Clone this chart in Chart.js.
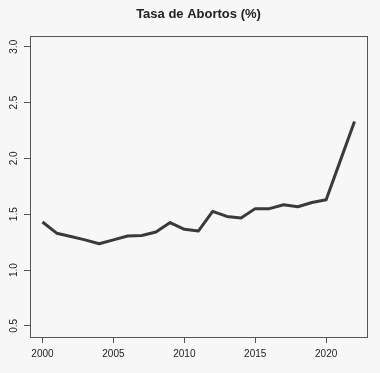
<!DOCTYPE html>
<html>
<head>
<meta charset="utf-8">
<script src="https://cdn.jsdelivr.net/npm/chart.js@4"></script>
<style>
  html, body { margin: 0; padding: 0; background: #f7f7f7; }
  canvas { display: block; }
</style>
</head>
<body>
<canvas id="chart" width="380" height="373"></canvas>
<script>
const years = [2000, 2001, 2002, 2003, 2004, 2005, 2006, 2007, 2008, 2009, 2010,
               2011, 2012, 2013, 2014, 2015, 2016, 2017, 2018, 2019, 2020, 2021, 2022];
const abortionRate = [1.43, 1.33, 1.30, 1.27, 1.235, 1.27, 1.305, 1.31, 1.34, 1.425, 1.365,
                      1.35, 1.525, 1.48, 1.465, 1.55, 1.55, 1.585, 1.567, 1.605, 1.63, 1.98, 2.33];
const xTicks = [2000, 2005, 2010, 2015, 2020];
const yTicks = [0.5, 1.0, 1.5, 2.0, 2.5, 3.0];
const chartTitle = 'Tasa de Abortos (%)';

const axisColor = '#555555';
const textColor = '#222222';

// R style box round the plot region
const boxPlugin = {
    id: 'box',
    afterDraw(chart) {
        const a = chart.chartArea;
        const ctx = chart.ctx;
        ctx.save();
        ctx.strokeStyle = axisColor;
        ctx.lineWidth = 1;
        ctx.strokeRect(Math.round(a.left) + 0.5, Math.round(a.top) + 0.5,
                       Math.round(a.right - a.left), Math.round(a.bottom - a.top));
        ctx.restore();
    }
};

const points = years.map((y, i) => ({ x: y, y: abortionRate[i] }));

new Chart('chart', {
    type: 'line',
    data: {
        datasets: [{
            data: points,
            borderColor: '#3a3a3a',
            borderWidth: 3,
            pointRadius: 0,
            tension: 0,
            borderJoinStyle: 'round',
            borderCapStyle: 'butt'
        }]
    },
    options: {
        responsive: false,
        animation: false,
        devicePixelRatio: 1,
        layout: { padding: { left: 0, right: 13, top: 0, bottom: 0 } },
        plugins: {
            legend: { display: false },
            tooltip: { enabled: false },
            title: {
                display: true,
                fullSize: false, // centre over the plot region like R does
                text: chartTitle,
                color: textColor,
                font: { family: 'Liberation Sans', size: 13, weight: 'bold' },
                padding: { top: 7, bottom: 13 }
            }
        },
        scales: {
            x: {
                type: 'linear',
                min: 1999.12,
                max: 2022.88,
                afterBuildTicks: (scale) => { scale.ticks = xTicks.map((v) => ({ value: v })); },
                afterFit: (scale) => { scale.height = 36; },
                grid: { drawOnChartArea: false, drawTicks: true, tickLength: 6, color: axisColor },
                border: { display: false },
                ticks: {
                    color: textColor,
                    padding: 5,
                    maxRotation: 0,
                    font: { family: 'Liberation Sans', size: 10 },
                    callback: (v) => String(v)
                }
            },
            y: {
                type: 'linear',
                min: 0.4,
                max: 3.1,
                afterBuildTicks: (scale) => { scale.ticks = yTicks.map((v) => ({ value: v })); },
                afterFit: (scale) => { scale.width = 30; },
                grid: { drawOnChartArea: false, drawTicks: true, tickLength: 6, color: axisColor },
                border: { display: false },
                ticks: {
                    color: textColor,
                    padding: 3,
                    minRotation: 90,
                    maxRotation: 90,
                    crossAlign: 'center',
                    font: { family: 'Liberation Sans', size: 10 },
                    callback: (v) => v.toFixed(1)
                }
            }
        }
    },
    plugins: [boxPlugin]
});
</script>
</body>
</html>
